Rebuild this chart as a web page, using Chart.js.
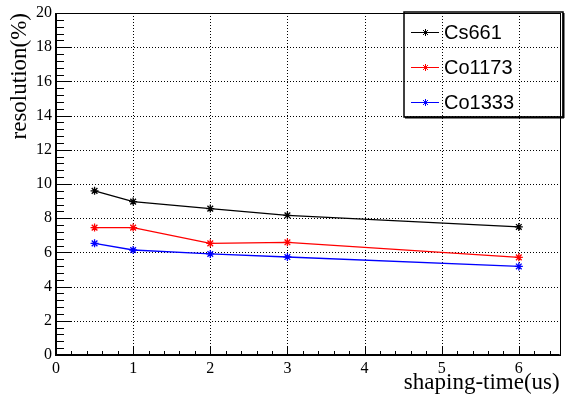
<!DOCTYPE html>
<html>
<head>
<meta charset="utf-8">
<script src="https://cdn.jsdelivr.net/npm/chart.js@4/dist/chart.umd.min.js"></script>
<style>
  html, body { margin: 0; padding: 0; background: #fff; }
  #wrap { width: 565px; height: 398px; }
</style>
</head>
<body>
<div id="wrap"><canvas id="chart" width="565" height="398"></canvas></div>
<script>
// values
const shapingTimes = [0.5, 1, 2, 3, 6];
const cs661 = [9.60, 8.97, 8.56, 8.17, 7.49];
const co1173 = [7.45, 7.45, 6.53, 6.59, 5.71];
const co1333 = [6.53, 6.14, 5.91, 5.73, 5.18];
const seriesNames = ["Cs661", "Co1173", "Co1333"];
const seriesColors = ["#000000", "#ff0000", "#0000ff"];
const xTicks = [0, 1, 2, 3, 4, 5, 6];
const yTicks = [0, 2, 4, 6, 8, 10, 12, 14, 16, 18, 20];
const xMax = 6.53;

const toPoints = vals => vals.map((v, i) => ({ x: shapingTimes[i], y: v }));

// ROOT-like frame: dotted grid, inside ticks, legend box
const rootFrame = {
  id: "rootFrame",
  beforeDatasetsDraw(chart) {
    const { ctx, chartArea: a, scales: { x, y } } = chart;
    ctx.save();
    ctx.strokeStyle = "#000";
    ctx.lineWidth = 1;
    ctx.setLineDash([1, 2]);
    ctx.beginPath();
    xTicks.forEach(v => {
      if (v === 0) return;
      const px = Math.round(x.getPixelForValue(v)) + 0.5;
      ctx.moveTo(px, a.top); ctx.lineTo(px, a.bottom);
    });
    yTicks.forEach(v => {
      if (v === 0) return;
      const py = Math.round(y.getPixelForValue(v)) + 0.5;
      ctx.moveTo(a.left, py); ctx.lineTo(a.right, py);
    });
    ctx.stroke();
    ctx.restore();
  },
  afterDatasetsDraw(chart) {
    const { ctx, chartArea: a, scales: { x, y } } = chart;
    ctx.save();
    ctx.strokeStyle = "#000";
    // thin top/right frame
    ctx.lineWidth = 1;
    ctx.strokeRect(Math.round(a.left) + 0.5, Math.round(a.top) + 0.5,
      Math.round(a.right - a.left), Math.round(a.bottom - a.top));
    // thick axes
    ctx.lineWidth = 2;
    ctx.beginPath();
    ctx.moveTo(Math.round(a.left), a.top);
    ctx.lineTo(Math.round(a.left), Math.round(a.bottom));
    ctx.lineTo(a.right, Math.round(a.bottom));
    ctx.stroke();

    // ticks
    ctx.lineWidth = 1;
    ctx.beginPath();
    for (let v = 0; v <= xMax + 1e-9; v += 0.2) {
      const major = Math.abs(v - Math.round(v)) < 1e-6;
      const px = Math.round(x.getPixelForValue(v)) + 0.5;
      ctx.moveTo(px, a.bottom); ctx.lineTo(px, a.bottom - (major ? 8 : 4));
    }
    for (let v = 0; v <= 20 + 1e-9; v += 0.4) {
      const major = Math.abs(v / 2 - Math.round(v / 2)) < 1e-6;
      const py = Math.round(y.getPixelForValue(v)) + 0.5;
      ctx.moveTo(a.left, py); ctx.lineTo(a.left + (major ? 16 : 8), py);
    }
    ctx.stroke();

    // legend
    const box = { l: 404, t: 12, r: 563, b: 117 };
    ctx.lineWidth = 1.5;
    ctx.strokeRect(box.l, box.t, box.r - box.l, box.b - box.t);
    ctx.lineWidth = 2;
    ctx.beginPath();
    ctx.moveTo(box.l + 1, box.b + 0.5); ctx.lineTo(box.r + 1, box.b + 0.5);
    ctx.moveTo(box.r + 0.5, box.t + 1); ctx.lineTo(box.r + 0.5, box.b + 1);
    ctx.stroke();

    const rows = [32, 67, 102];
    ctx.font = "20px 'Liberation Sans', Arial, sans-serif";
    ctx.textBaseline = "middle";
    ctx.textAlign = "left";
    chart.data.datasets.forEach((ds, i) => {
      const cy = rows[i] + 0.5;
      ctx.strokeStyle = ds.borderColor;
      ctx.lineWidth = 1;
      ctx.beginPath();
      ctx.moveTo(411, cy); ctx.lineTo(439, cy);
      const r = 3.5;
      const d = r * Math.SQRT1_2;
      ctx.moveTo(425.5 - r, cy); ctx.lineTo(425.5 + r, cy);
      ctx.moveTo(425.5, cy - r); ctx.lineTo(425.5, cy + r);
      ctx.moveTo(425.5 - d, cy - d); ctx.lineTo(425.5 + d, cy + d);
      ctx.moveTo(425.5 - d, cy + d); ctx.lineTo(425.5 + d, cy - d);
      ctx.stroke();
      ctx.fillStyle = "#000";
      ctx.fillText(ds.label, 444, rows[i] + 1);
    });
    ctx.restore();
  }
};

const serif = "'Liberation Serif', 'Times New Roman', serif";

new Chart(document.getElementById("chart"), {
  type: "line",
  data: {
    datasets: [cs661, co1173, co1333].map((vals, i) => ({
      label: seriesNames[i],
      data: toPoints(vals),
      borderColor: seriesColors[i],
      backgroundColor: seriesColors[i],
      borderWidth: 1.3,
      pointStyle: "star",
      pointRadius: 4,
      pointBorderWidth: 1.3,
      pointHoverRadius: 4,
      fill: false,
      tension: 0
    }))
  },
  options: {
    responsive: false,
    animation: false,
    devicePixelRatio: 1,
    layout: { padding: { left: 0, top: 13, right: 1, bottom: 0 } },
    plugins: { legend: { display: false }, tooltip: { enabled: false } },
    scales: {
      x: {
        type: "linear",
        min: 0,
        max: xMax,
        afterFit: s => { s.height = 43; s.paddingLeft = 0; s.paddingRight = 0; },
        afterBuildTicks: s => { s.ticks = xTicks.map(v => ({ value: v })); },
        ticks: { includeBounds: false, padding: 4, color: "#000",
          font: { family: serif, size: 16 } },
        grid: { display: false, drawTicks: false },
        border: { display: false },
        title: { display: true, text: "shaping-time(us)", align: "end", color: "#000",
          font: { family: serif, size: 23 }, padding: { top: 0, bottom: 1 } }
      },
      y: {
        min: 0,
        max: 20,
        afterFit: s => { s.width = 56; s.paddingTop = 0; s.paddingBottom = 0; },
        afterBuildTicks: s => { s.ticks = yTicks.map(v => ({ value: v })); },
        ticks: { padding: 4, color: "#000",
          font: { family: serif, size: 16 } },
        grid: { display: false, drawTicks: false },
        border: { display: false },
        title: { display: true, text: "resolution(%)", align: "end", color: "#000",
          font: { family: serif, size: 23 }, padding: { top: 6, bottom: 0 } }
      }
    }
  },
  plugins: [rootFrame]
});
</script>
</body>
</html>
